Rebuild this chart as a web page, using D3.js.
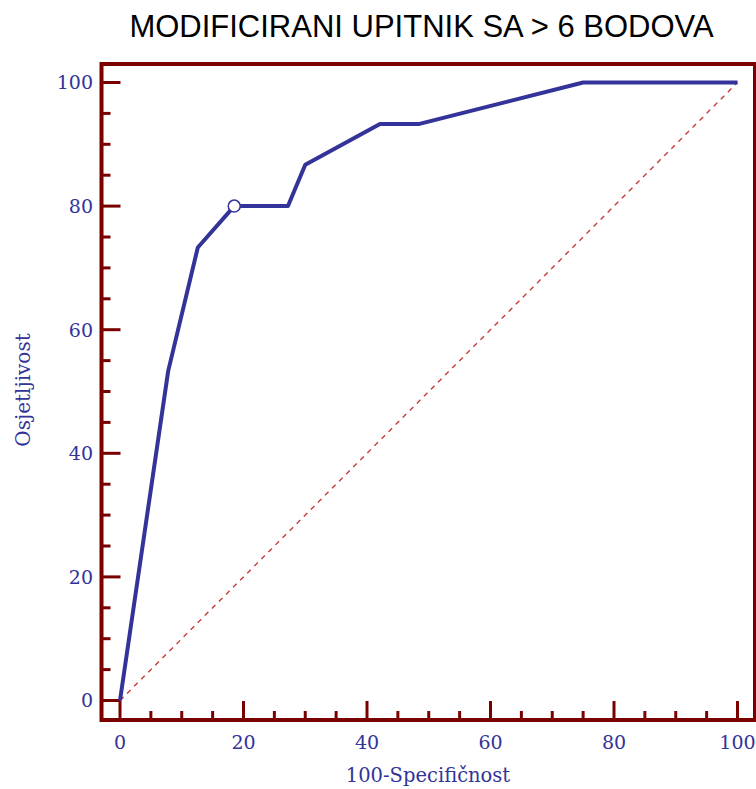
<!DOCTYPE html>
<html><head><meta charset="utf-8">
<script src="https://cdn.jsdelivr.net/npm/d3@7"></script>
<style>html,body{margin:0;padding:0;background:#fff;}svg{display:block;}</style>
</head><body>
<script>
const title = "MODIFICIRANI UPITNIK SA > 6 BODOVA";
const xLabel = "100-Specifičnost";
const yLabel = "Osjetljivost";
const fpr = [0, 7.8, 12.6, 18.5, 27.2, 30.0, 42.1, 48.5, 75.0, 100];
const tpr = [0, 53.3, 73.3, 80.0, 80.0, 86.7, 93.3, 93.3, 100, 100];
const cutoffPoint = [18.5, 80.0];
const majorTicks = [0, 20, 40, 60, 80, 100];
const minorTicks = [5,10,15,25,30,35,45,50,55,65,70,75,85,90,95];

const W = 756, H = 789;
const maroon = "#7a0000", blue = "#333399";
const svg = d3.select("body").append("svg").attr("width", W).attr("height", H);

const x = d3.scaleLinear().domain([0, 100]).range([120, 737.5]);
const y = d3.scaleLinear().domain([0, 100]).range([700.5, 82.5]);
const frame = {l: 101.5, r: 755, t: 64, b: 720};

// title
svg.append("text").attr("x", 421.5).attr("y", 37).attr("text-anchor", "middle")
  .attr("font-family", "Liberation Sans, Arial, sans-serif").attr("font-size", 31)
  .attr("fill", "#000").text(title);

// diagonal reference
svg.append("line").attr("x1", x(0)).attr("y1", y(0)).attr("x2", x(100)).attr("y2", y(100))
  .attr("stroke", "#c83a3a").attr("stroke-width", 1.4).attr("stroke-dasharray", "5,5");

// frame
svg.append("rect").attr("x", frame.l).attr("y", frame.t)
  .attr("width", frame.r - frame.l).attr("height", frame.b - frame.t)
  .attr("fill", "none").attr("stroke", maroon).attr("stroke-width", 4);

// ticks
const g = svg.append("g").attr("stroke", maroon).attr("stroke-width", 3);
majorTicks.forEach(v => {
  g.append("line").attr("x1", x(v)).attr("x2", x(v)).attr("y1", frame.b).attr("y2", frame.b - 19);
  g.append("line").attr("x1", frame.l).attr("x2", frame.l + 19).attr("y1", y(v)).attr("y2", y(v));
});
minorTicks.forEach(v => {
  g.append("line").attr("x1", x(v)).attr("x2", x(v)).attr("y1", frame.b).attr("y2", frame.b - 9);
  g.append("line").attr("x1", frame.l).attr("x2", frame.l + 9).attr("y1", y(v)).attr("y2", y(v));
});

// tick labels
const tf = "DejaVu Serif, serif";
svg.append("g").selectAll("text").data(majorTicks).join("text")
  .attr("x", d => x(d)).attr("y", 749).attr("text-anchor", "middle")
  .attr("font-family", tf).attr("font-size", 19).attr("fill", blue).text(d => d);
svg.append("g").selectAll("text").data(majorTicks).join("text")
  .attr("x", 93).attr("y", d => y(d)).attr("dy", "0.36em").attr("text-anchor", "end")
  .attr("font-family", tf).attr("font-size", 19).attr("fill", blue).text(d => d);

// axis titles
svg.append("text").attr("x", 428).attr("y", 782).attr("text-anchor", "middle")
  .attr("font-family", tf).attr("font-size", 19.5).attr("fill", blue).text(xLabel);
svg.append("text").attr("transform", "translate(30,390) rotate(-90)").attr("text-anchor", "middle")
  .attr("font-family", tf).attr("font-size", 20).attr("fill", blue).text(yLabel);

// ROC curve
const pts = fpr.map((v, i) => [v, tpr[i]]);
svg.append("path").datum(pts)
  .attr("d", d3.line().x(d => x(d[0])).y(d => y(d[1])))
  .attr("fill", "none").attr("stroke", blue).attr("stroke-width", 4).attr("stroke-linejoin", "round");

svg.append("circle").attr("cx", x(cutoffPoint[0])).attr("cy", y(cutoffPoint[1])).attr("r", 6)
  .attr("fill", "#fff").attr("stroke", blue).attr("stroke-width", 1.5);
</script>
</body></html>
